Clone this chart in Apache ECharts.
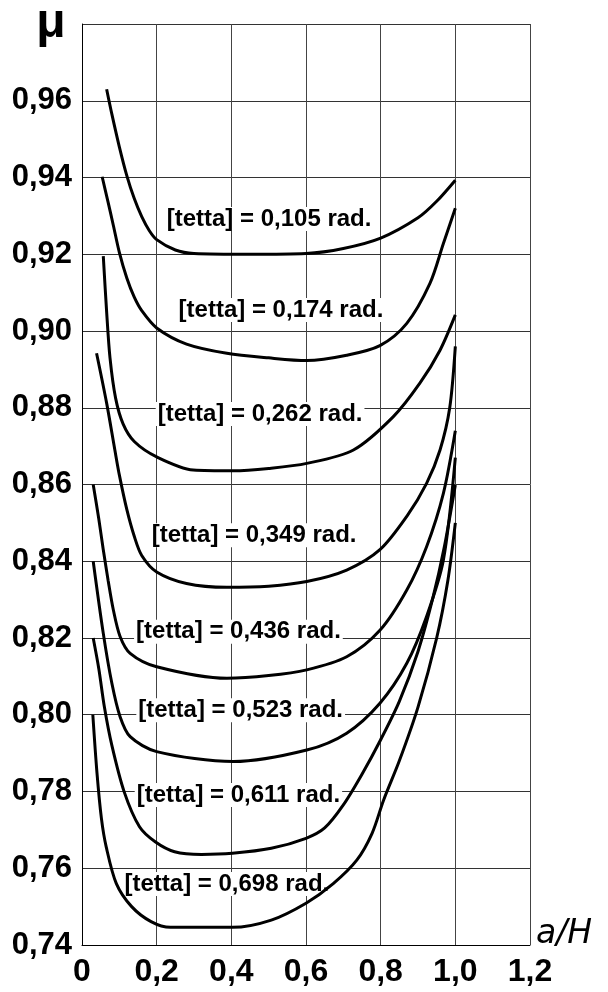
<!DOCTYPE html>
<html>
<head>
<meta charset="utf-8">
<script src="https://cdn.jsdelivr.net/npm/echarts@6/dist/echarts.min.js"></script>
<style>
html,body{margin:0;padding:0;background:#fff;}
#chart{width:608px;height:992px;}
</style>
</head>
<body>
<div id="chart"></div>
<script>
// Tick labels
const xTickLabels = ['0', '0,2', '0,4', '0,6', '0,8', '1,0', '1,2'];
const yTickLabels = ['0,74', '0,76', '0,78', '0,80', '0,82', '0,84', '0,86', '0,88', '0,90', '0,92', '0,94', '0,96', ''];

// Curves: [a/H, mu]
const theta0105 = [[0.066,0.963],[0.08,0.9565],[0.1,0.948],[0.12,0.9405],[0.14,0.9345],[0.16,0.9298],[0.18,0.9262],[0.2,0.9238],[0.25,0.9211],[0.3,0.9202],[0.45,0.920],[0.6,0.9202],[0.7,0.9215],[0.8,0.9242],[0.9,0.9295],[0.95,0.9338],[1.0,0.9393]];
const theta0174 = [[0.054,0.9402],[0.07,0.9335],[0.084,0.9275],[0.1,0.9205],[0.12,0.9138],[0.14,0.9088],[0.16,0.9053],[0.2,0.9008],[0.28,0.8966],[0.388,0.8942],[0.5,0.893],[0.602,0.8923],[0.709,0.8937],[0.798,0.8962],[0.87,0.902],[0.932,0.9124],[0.968,0.9228],[1.0,0.932]];
const theta0262 = [[0.057,0.9195],[0.066,0.905],[0.075,0.893],[0.09,0.8825],[0.11,0.8758],[0.14,0.8712],[0.2,0.8672],[0.298,0.8638],[0.405,0.8636],[0.5,0.8642],[0.602,0.8655],[0.727,0.869],[0.834,0.8777],[0.905,0.8864],[0.959,0.895],[1.0,0.9042]];
const theta0349 = [[0.039,0.8942],[0.066,0.8812],[0.088,0.869],[0.1,0.8625],[0.12,0.8535],[0.14,0.8465],[0.16,0.8415],[0.2,0.8372],[0.28,0.8342],[0.388,0.8332],[0.5,0.8335],[0.602,0.8347],[0.709,0.8377],[0.798,0.843],[0.87,0.8517],[0.923,0.8603],[0.959,0.869],[0.985,0.88],[1.0,0.896]];
const theta0436 = [[0.03,0.86],[0.045,0.851],[0.057,0.843],[0.07,0.835],[0.084,0.8273],[0.102,0.8204],[0.129,0.816],[0.2,0.8125],[0.388,0.8095],[0.5,0.8102],[0.602,0.8117],[0.709,0.8151],[0.798,0.822],[0.87,0.8325],[0.923,0.8438],[0.968,0.8577],[1.0,0.874]];
const theta0523 = [[0.03,0.84],[0.057,0.8212],[0.08,0.8082],[0.102,0.7995],[0.129,0.7943],[0.2,0.7904],[0.405,0.7878],[0.602,0.7908],[0.709,0.7952],[0.798,0.803],[0.87,0.8134],[0.923,0.8256],[0.968,0.8403],[1.0,0.867]];
const theta0611 = [[0.03,0.82],[0.045,0.812],[0.06,0.802],[0.08,0.792],[0.113,0.7799],[0.154,0.7708],[0.196,0.7669],[0.248,0.7643],[0.32,0.7636],[0.403,0.7639],[0.507,0.7652],[0.6,0.7678],[0.65,0.7705],[0.7,0.7765],[0.75,0.7845],[0.8,0.7935],[0.85,0.8035],[0.9,0.8165],[0.94,0.8305],[0.97,0.8435],[1.0,0.8599]];
const theta0698 = [[0.029,0.80],[0.04,0.785],[0.052,0.773],[0.065,0.7655],[0.092,0.756],[0.133,0.75],[0.185,0.7461],[0.237,0.7446],[0.403,0.7446],[0.507,0.7465],[0.6,0.7509],[0.673,0.756],[0.736,0.7621],[0.777,0.7691],[0.808,0.7778],[0.85,0.788],[0.9,0.802],[0.95,0.82],[0.98,0.835],[1.0,0.85]];

const curves = [theta0105, theta0174, theta0262, theta0349, theta0436, theta0523, theta0611, theta0698];

// Curve labels
const labelTexts = ['[tetta] = 0,105 rad.', '[tetta] = 0,174 rad.', '[tetta] = 0,262 rad.', '[tetta] = 0,349 rad.', '[tetta] = 0,436 rad.', '[tetta] = 0,523 rad.', '[tetta] = 0,611 rad.', '[tetta] = 0,698 rad.'];
const labelX = [0.501, 0.533, 0.477, 0.461, 0.419, 0.425, 0.419, 0.388];
const labelY = [0.9292, 0.9055, 0.8784, 0.8468, 0.8216, 0.8012, 0.7791, 0.7559];

const FONT = '"Liberation Sans", Arial, sans-serif';

const chart = echarts.init(document.getElementById('chart'), null, {renderer: 'canvas'});

const series = curves.map((d, i) => ({
  name: labelTexts[i],
  type: 'line',
  data: d,
  showSymbol: false,
  smooth: 0.3,
  z: 3,
  lineStyle: {color: '#000', width: 3},
  animation: false
}));

series.push({
  type: 'scatter',
  z: 1,
  symbol: 'circle',
  symbolSize: 0.1,
  itemStyle: {color: '#fff', opacity: 1},
  data: labelX.map((x, i) => [x, labelY[i]]),
  label: {
    show: true,
    position: 'inside',
    formatter: p => labelTexts[p.dataIndex],
    fontFamily: FONT,
    fontWeight: 'bold',
    fontSize: 24,
    color: '#000',
    opacity: 1,
    textBorderWidth: 0,
    backgroundColor: '#fff',
    padding: [0, 2]
  },
  emphasis: {disabled: true},
  animation: false
});

chart.setOption({
  backgroundColor: '#fff',
  animation: false,
  grid: {left: 82, right: 78, top: 24, bottom: 47, containLabel: false},
  xAxis: {
    type: 'value',
    min: 0, max: 1.2, interval: 0.2,
    name: 'a/H',
    nameLocation: 'end',
    nameGap: 6,
    nameTextStyle: {fontFamily: '"DejaVu Sans", sans-serif', fontStyle: 'italic', fontSize: 33, color: '#000', align: 'left', verticalAlign: 'bottom', lineHeight: 22},
    axisLine: {show: true, lineStyle: {color: '#000', width: 1}},
    axisTick: {show: false},
    splitLine: {show: true, lineStyle: {color: '#444', width: 1}},
    axisLabel: {
      margin: 11,
      fontFamily: FONT, fontWeight: 'bold', fontSize: 32, color: '#000', lineHeight: 32,
      formatter: v => xTickLabels[Math.round(v / 0.2)]
    }
  },
  yAxis: {
    type: 'value',
    min: 0.74, max: 0.98, interval: 0.02,
    name: 'μ',
    nameLocation: 'end',
    nameGap: 0,
    nameTextStyle: {fontFamily: FONT, fontWeight: 'bold', fontSize: 48, color: '#000', align: 'center', verticalAlign: 'middle', padding: [0, 62, 12, 0]},
    axisLine: {show: true, lineStyle: {color: '#000', width: 1}},
    axisTick: {show: false},
    splitLine: {show: true, lineStyle: {color: '#333', width: 1}},
    axisLabel: {
      margin: 10,
      fontFamily: FONT, fontWeight: 'bold', fontSize: 31, color: '#000',
      formatter: v => yTickLabels[Math.round((v - 0.74) / 0.02)]
    }
  },
  series: series
});
</script>
</body>
</html>
